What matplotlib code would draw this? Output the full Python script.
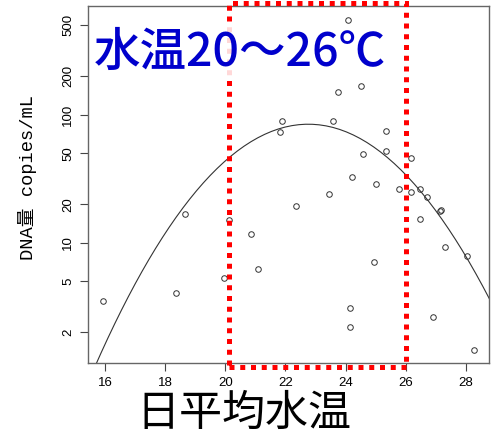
import matplotlib
matplotlib.use("Agg")
import matplotlib.pyplot as plt
import matplotlib.transforms as mtransforms
from matplotlib.patches import Rectangle
import numpy as np

# 日平均水温とDNA量の観測値
temp = [15.92, 18.35, 18.64, 19.95, 20.13, 20.86, 21.09, 21.82, 21.89, 22.34,
        23.45, 23.58, 23.76, 24.09, 24.15, 24.15, 24.23, 24.52, 24.57, 24.95,
        25.03, 25.34, 25.34, 25.77, 26.17, 26.17, 26.48, 26.48, 26.72, 26.92,
        27.16, 27.19, 27.31, 28.04, 28.29]
dna = [3.52, 4.03, 16.8, 5.27, 15.1, 11.7, 6.2, 73, 89, 19.4,
       24, 90, 151, 550, 3.07, 2.2, 32.5, 169, 49, 7.1,
       29, 74, 52, 26.3, 46, 24.8, 26.3, 15.4, 22.6, 2.63,
       17.7, 17.9, 9.2, 7.9, 1.46]

# 二次回帰 log10(DNA量) = peak_log - curv * (水温 - peak_x)^2
fit_peak_x = 22.76
fit_peak_log = 1.926
fit_curv = 0.0375

# 注目する水温帯
band_lo, band_hi = 20.13, 26.0

xticks = [16, 18, 20, 22, 24, 26, 28]
yticks = [2, 5, 10, 20, 50, 100, 200, 500]

plt.rcParams['font.family'] = ['Liberation Sans', 'Noto Sans CJK JP']

fig = plt.figure(figsize=(4.95, 4.41), dpi=100)
ax = fig.add_axes([88 / 495, 78 / 441, 401 / 495, 357 / 441])

ax.set_yscale('log')
ax.set_xlim(15.42, 28.78)
ax.set_ylim(1.146, 708)

# 回帰曲線
xs = np.linspace(15.4, 28.8, 60)
ys = 10 ** (fit_peak_log - fit_curv * (xs - fit_peak_x) ** 2)
ax.plot(xs, ys, color='#333333', lw=0.8, zorder=2)

# 観測値
ax.plot(temp, dna, 'o', ms=4, mfc='none', mec='#333333', mew=0.7, zorder=3)

ax.set_xticks(xticks)
ax.set_xticklabels([str(t) for t in xticks], fontsize=9.5)
ax.set_yticks(yticks)
ax.set_yticklabels([str(t) for t in yticks], fontsize=9.5, rotation=90, va='center')
ax.yaxis.set_minor_locator(matplotlib.ticker.NullLocator())
ax.tick_params(direction='out', length=6, width=0.8, color='#444444', pad=4)
for sp in ax.spines.values():
    sp.set_color('#666666')
    sp.set_linewidth(1.0)

ax.set_ylabel('DNA量 copies/mL', fontsize=13.5,
              family=['Liberation Mono', 'Noto Sans CJK JP'])
ax.yaxis.set_label_coords(-0.127, 0.52)
ax.set_xlabel('日平均水温', fontsize=31, family=['Noto Sans CJK JP'])
ax.xaxis.set_label_coords(0.39, -0.08)
ax.xaxis.label.set_va('top')

# 赤い点線の枠
trans = mtransforms.blended_transform_factory(ax.transData, ax.transAxes)
rect = Rectangle((band_lo, -0.01), band_hi - band_lo, 1.018, transform=trans,
                 fill=False, edgecolor='#ff0000', lw=3.6, linestyle=(0, (1.0, 1.15)),
                 clip_on=False, zorder=4)
ax.add_patch(rect)

ax.text(94, 441 - 52, '水温20～26℃', transform=None, fontsize=33.5, fontweight='medium',
        color='#0000cc', family=['Noto Sans CJK JP'], ha='left', va='center', zorder=5,
        bbox=dict(boxstyle='square,pad=0.05', fc='white', ec='none', alpha=0.85))

fig.savefig('out.png', dpi=100)
